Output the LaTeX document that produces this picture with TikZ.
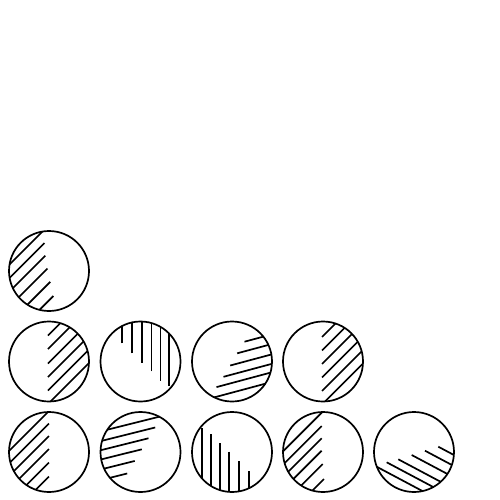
\documentclass[tikz,border=0pt]{standalone}
\tikzset{
  ring/.style={line width=1.7pt},
  hatchline/.style={line width=1.7pt}
}
% #1 cx, #2 cy, #3 dx, #4 dy (outward direction, scaled), #5 list of inner end points x/y
\newcommand\hatchcircle[5]{%
  \begin{scope}[shift={(#1,#2)}]
    \begin{scope}
      \clip (0,0) circle (40);
      \foreach \px/\py in {#5} {\draw[hatchline] (\px,\py) -- ++(#3,#4);}
    \end{scope}
    \draw[ring] (0,0) circle (40);
  \end{scope}}
\begin{document}
\begin{tikzpicture}[x=1pt,y=-1pt]
\useasboundingbox (0,0) rectangle (500,500);
% row 1
\hatchcircle{49}{271}{-100}{100}{-3/-43, -4.5/-28, -3.7/-15.3, -1.5/-2.5, 1.3/10.8, 4.3/25}
% row 2
\hatchcircle{49}{361.5}{100}{-100}{-1/-26, -1/-12.5, -1/2, -1/15.5, -1/29, -1/42.5}
\hatchcircle{140.5}{361.5}{0}{-100}{-18.6/-18.2, -8.4/-8.2, 1.6/1.2, 11/9.8, 20/19, 28.3/24.5}
\hatchcircle{232}{361.5}{96.6}{-25.9}{12.5/-19.8, 5.2/-8.2, -1.8/4, -8.5/15.3, -15.5/25.6, -23.8/37.5}
\hatchcircle{323}{361.5}{100}{-100}{-1/-24.5, -1/-11, -1/2.5, -1/16, -1/29.5, -1/43}
% row 3
\hatchcircle{49}{452}{-100}{100}{2/-43, 0/-28.5, 0/-16, 0/-3, 0/10.5, 0/24.5}
\hatchcircle{140.5}{452}{-97}{24.2}{23.7/-36.5, 14.7/-24.5, 8/-13.7, 1.3/-2.7, -5.8/9, -13.3/21.5}
\hatchcircle{232}{452}{0}{100}{-30.3/-23.7, -21/-18, -12.3/-8.7, -2.7/-0.3, 7.3/9, 17/19}
\hatchcircle{323}{452}{-100}{100}{1/-41.7, -1.3/-26, -1.3/-13.7, -1.3/-1.3, -0.3/12, 1/27}
\hatchcircle{414}{452}{88.3}{46.9}{24.3/-5.3, 11/-1.3, -2.3/3, -15.7/7.3, -27.3/10.3, -41.7/12.4}
\end{tikzpicture}
\end{document}
